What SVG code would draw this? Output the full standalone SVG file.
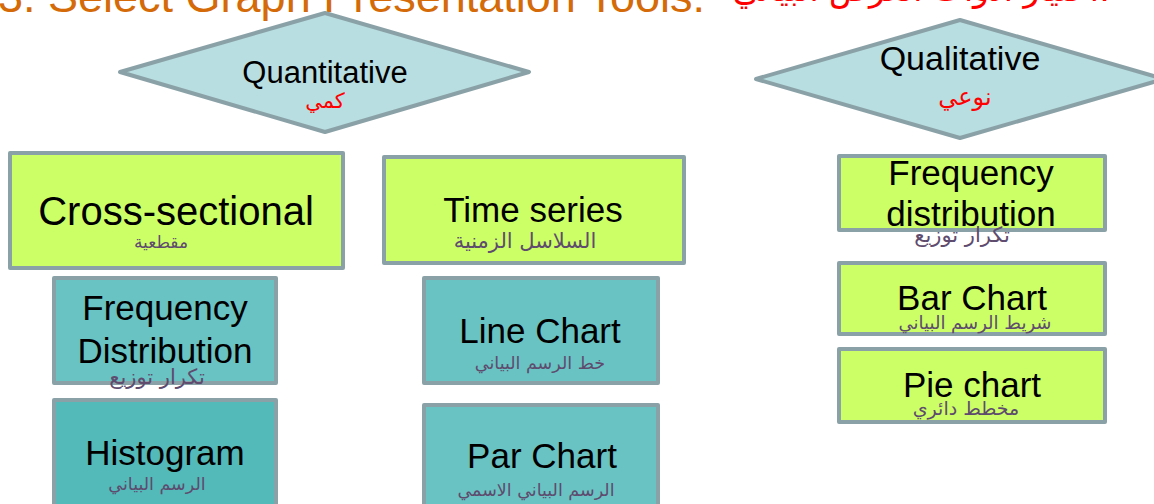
<svg xmlns="http://www.w3.org/2000/svg" width="1154" height="504" viewBox="0 0 1154 504">
<style>
.en{font-family:"Liberation Sans",Arial,sans-serif;fill:#000;text-anchor:middle}
.ar{font-family:"DejaVu Sans","Noto Sans",sans-serif;fill:#5E4B6E;text-anchor:middle}
.red{fill:#FF0000}
.dia{fill:#B8DEE1;stroke:#8AA2A7;stroke-width:4;stroke-linejoin:round}
.lime{fill:#CCFF66;stroke:#8AA2A7;stroke-width:4;stroke-linejoin:round}
.teal{fill:#69C3C3;stroke:#8AA2A7;stroke-width:4;stroke-linejoin:round}
.teal2{fill:#53B9B9;stroke:#8AA2A7;stroke-width:4;stroke-linejoin:round}
</style>
<rect width="1154" height="504" fill="#FFFFFF"/>
<g id="title">
<text x="-2" y="12" font-family="Liberation Sans, Arial, sans-serif" font-size="45" fill="#D46B08">3. Select Graph Presentation Tools:</text>
<text x="1110" y="1" font-family="DejaVu Sans, sans-serif" font-size="33" fill="#FF0000" text-anchor="end">اختيار أدوات العرض البياني:</text>
</g>
<g id="connectors"></g>
<g id="quantitative">
<polygon class="dia" points="120,72 325,13 529,72 325,132"/>
<text class="en" x="325" y="83" font-size="31">Quantitative</text>
<text class="ar red" x="325" y="108" font-size="21">كمي</text>
</g>
<g id="qualitative">
<polygon class="dia" points="756,79 960,20 1164,79 960,138"/>
<text class="en" x="960" y="70" font-size="34">Qualitative</text>
<text class="ar red" x="965" y="105" font-size="24">نوعي</text>
</g>
<g id="cross-sectional">
<rect class="lime" x="10" y="153" width="333" height="115"/>
<text class="en" x="176" y="225" font-size="40">Cross-sectional</text>
<text class="ar" x="161" y="248" font-size="17">مقطعية</text>
</g>
<g id="time-series">
<rect class="lime" x="384" y="157" width="300" height="106"/>
<text class="en" x="533" y="222" font-size="35">Time series</text>
<text class="ar" x="525" y="248" font-size="21">السلاسل الزمنية</text>
</g>
<g id="frequency-distribution-q">
<rect class="lime" x="839" y="156" width="266" height="74"/>
<text class="en" x="971" y="185" font-size="35">Frequency</text>
<text class="en" x="971" y="226" font-size="35">distribution</text>
<text class="ar" x="962" y="242" font-size="21">تكرار توزيع</text>
</g>
<g id="bar-chart">
<rect class="lime" x="839" y="263" width="266" height="71"/>
<text class="en" x="972" y="310" font-size="35">Bar Chart</text>
<text class="ar" x="975" y="329" font-size="18">شريط الرسم البياني</text>
</g>
<g id="pie-chart">
<rect class="lime" x="839" y="349" width="266" height="73"/>
<text class="en" x="972" y="397" font-size="35">Pie chart</text>
<text class="ar" x="966" y="415" font-size="19">مخطط دائري</text>
</g>
<g id="frequency-distribution">
<rect class="teal" x="54" y="278" width="222" height="105"/>
<text class="en" x="165" y="320" font-size="35">Frequency</text>
<text class="en" x="165" y="363" font-size="35">Distribution</text>
<text class="ar" x="157" y="384" font-size="21">تكرار توزيع</text>
</g>
<g id="histogram">
<rect class="teal2" x="54" y="400" width="222" height="110"/>
<text class="en" x="165" y="465" font-size="35">Histogram</text>
<text class="ar" x="157" y="490" font-size="17.5">الرسم البياني</text>
</g>
<g id="line-chart">
<rect class="teal" x="424" y="278" width="234" height="105"/>
<text class="en" x="540" y="343" font-size="35">Line Chart</text>
<text class="ar" x="540" y="369" font-size="17.5">خط الرسم البياني</text>
</g>
<g id="par-chart">
<rect class="teal" x="424" y="405" width="234" height="105"/>
<text class="en" x="542" y="468" font-size="35">Par Chart</text>
<text class="ar" x="536" y="496" font-size="17.5">الرسم البياني الاسمي</text>
</g>
</svg>
